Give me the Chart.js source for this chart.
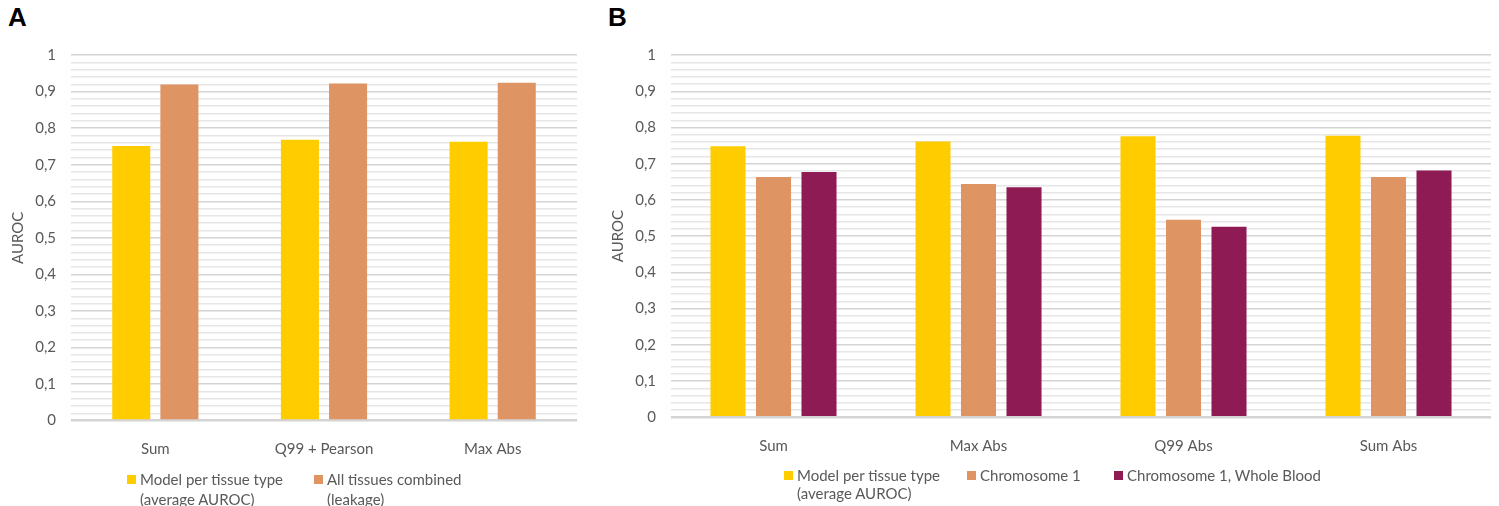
<!DOCTYPE html>
<html>
<head>
<meta charset="utf-8">
<script src="https://cdn.jsdelivr.net/npm/chart.js@4/dist/chart.umd.min.js"></script>
<style>
  body { margin: 0; background: #fff; }
  #wrap { position: relative; width: 1499px; height: 506px; background: #fff; font-family: Lato, "Open Sans", sans-serif; color: #595959; }
  canvas { position: absolute; top: 0; }
  .letter { position: absolute; top: 2px; font: bold 26px "Liberation Sans", Arial, sans-serif; color: #000; }
  .legend { position: absolute; font-size: 15px; color: #595959; }
  .item { position: absolute; white-space: nowrap; }
  .sw { position: absolute; width: 9px; height: 9px; }
</style>
</head>
<body>
<div id="wrap">
  <div class="letter" style="left:8px">A</div>
  <div class="letter" style="left:608px">B</div>
  <canvas id="chartA" width="600" height="506" style="left:0"></canvas>
  <canvas id="chartB" width="899" height="506" style="left:600px"></canvas>
  <div id="legendA"></div>
  <div id="legendB"></div>
</div>
<script>
// panel A
const categoriesA = ["Sum", "Q99 + Pearson", "Max Abs"];
const perTissueA = [0.751, 0.768, 0.763];
const combinedA = [0.919, 0.922, 0.924];

// panel B
const categoriesB = ["Sum", "Max Abs", "Q99 Abs", "Sum Abs"];
const perTissueB = [0.748, 0.761, 0.776, 0.777];
const chrom1B = [0.663, 0.644, 0.545, 0.663];
const chrom1BloodB = [0.677, 0.635, 0.526, 0.681];

const yellow = "#FFCC00", orange = "#DE9463", purple = "#8E1B53";
const gray = "#595959";

function isMajor(v) { return Math.round(v * 100) % 10 === 0; }

function yScale() {
    return {
        min: 0, max: 1,
        afterFit: s => { s.width = 71; },
        border: { display: false },
        grid: {
            drawTicks: false,
            color: c => (c.tick && isMajor(c.tick.value)) ? "#d4d4d4" : "#e6e6e6",
            lineWidth: c => (c.tick && c.tick.value === 0) ? 2.5 : 1.4
        },
        ticks: {
            stepSize: 0.02, autoSkip: false, padding: 15,
            color: gray, font: { family: "Lato", size: 15 },
            callback: v => isMajor(v) ? String(Math.round(v * 10) / 10).replace(".", ",") : ""
        },
        title: {
            display: true, text: "AUROC", color: gray,
            font: { family: "Lato", size: 15 }, padding: { top: 9, bottom: 0 }
        }
    };
}

function xScale() {
    return {
        afterFit: s => { s.height = 40; },
        border: { display: false },
        grid: { display: false },
        ticks: { color: gray, font: { family: "Lato", size: 15 }, padding: 12 }
    };
}

function baseOptions(padRight, padBottom) {
    return {
        responsive: false,
        animation: false,
        layout: { autoPadding: false, padding: { top: 55, left: 0, right: padRight, bottom: padBottom } },
        plugins: { legend: { display: false }, tooltip: { enabled: false } },
        scales: { x: xScale(), y: yScale() }
    };
}

new Chart(document.getElementById("chartA"), {
    type: "bar",
    data: {
        labels: categoriesA,
        datasets: [
            { label: "Model per tissue type (average AUROC)", data: perTissueA, backgroundColor: yellow,
              categoryPercentage: 0.571, barPercentage: 0.79 },
            { label: "All tissues combined (leakage)", data: combinedA, backgroundColor: orange,
              categoryPercentage: 0.571, barPercentage: 0.79 }
        ]
    },
    options: baseOptions(23, 45.4)
});

new Chart(document.getElementById("chartB"), {
    type: "bar",
    data: {
        labels: categoriesB,
        datasets: [
            { label: "Model per tissue type (average AUROC)", data: perTissueB, backgroundColor: yellow,
              categoryPercentage: 0.666, barPercentage: 0.77 },
            { label: "Chromosome 1", data: chrom1B, backgroundColor: orange,
              categoryPercentage: 0.666, barPercentage: 0.77 },
            { label: "Chromosome 1, Whole Blood", data: chrom1BloodB, backgroundColor: purple,
              categoryPercentage: 0.666, barPercentage: 0.77 }
        ]
    },
    options: baseOptions(8, 48.7)
});

// legends (multi-line, so built as html)
function legend(id, items, top, lineH) {
    const el = document.getElementById(id);
    el.className = "legend";
    el.style.top = top + "px";
    el.style.left = "0px";
    el.style.lineHeight = lineH + "px";
    items.forEach(it => {
        const d = document.createElement("div");
        d.className = "item";
        d.style.left = (it.x + 13) + "px";
        d.innerHTML = it.lines.join("<br>");
        const sw = document.createElement("div");
        sw.className = "sw";
        sw.style.background = it.color;
        sw.style.left = it.x + "px";
        sw.style.top = (lineH / 2 - 4.5) + "px";
        el.appendChild(sw);
        el.appendChild(d);
    });
}
legend("legendA", [
    { x: 127, color: yellow, lines: ["Model per tissue type", "(average AUROC)"] },
    { x: 314, color: orange, lines: ["All tissues combined", "(leakage)"] }
], 469, 20);
legend("legendB", [
    { x: 784, color: yellow, lines: ["Model per tissue type", "(average AUROC)"] },
    { x: 967, color: orange, lines: ["Chromosome 1"] },
    { x: 1114, color: purple, lines: ["Chromosome 1, Whole Blood"] }
], 466, 18);
</script>
</body>
</html>
